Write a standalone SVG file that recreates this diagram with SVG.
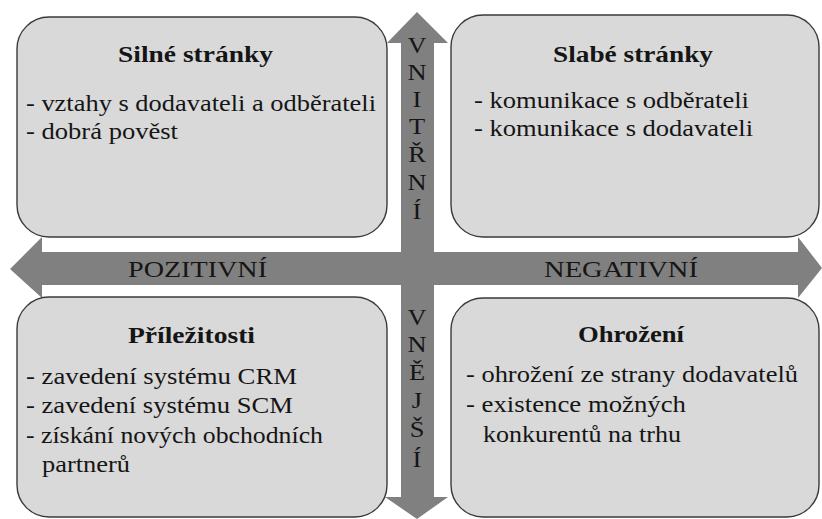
<svg xmlns="http://www.w3.org/2000/svg" width="822" height="519" viewBox="0 0 822 519">
<defs>
<style>
.box{fill:#d9d9d9;stroke:#3a3a3a;stroke-width:1.4}
.arrow{fill:#808080}
text{font-family:"Liberation Serif","Times New Roman",Times,serif;fill:#151515;font-size:24px}
.t{font-weight:bold}
.v{font-size:23px;text-anchor:middle}
</style>
</defs>
<rect width="822" height="519" fill="#ffffff"/>
<g id="connectors">
<polygon class="arrow" points="10,269 42,237 42,252 798,252 798,237 822,268 798,298 798,285 42,285 42,298"/>
<polygon class="arrow" points="417,12 448,43 434,43 434,497 448,497 417,519 385,497 401,497 401,43 387,43"/>
<g transform="translate(417,0) scale(1.15,1)">
<text class="v" x="0" y="53">V</text>
<text class="v" x="0" y="80">N</text>
<text class="v" x="0" y="107">I</text>
<text class="v" x="0" y="134">T</text>
<text class="v" x="0" y="162">Ř</text>
<text class="v" x="0" y="190">N</text>
<text class="v" x="0" y="219">Í</text>
<text class="v" x="0" y="325">V</text>
<text class="v" x="0" y="352">N</text>
<text class="v" x="0" y="380">Ě</text>
<text class="v" x="0" y="408">J</text>
<text class="v" x="0" y="437">Š</text>
<text class="v" x="0" y="467">Í</text>
</g>
<text x="128" y="277" textLength="139" lengthAdjust="spacingAndGlyphs">POZITIVNÍ</text>
<text x="544" y="277" textLength="154" lengthAdjust="spacingAndGlyphs">NEGATIVNÍ</text>
</g>
<g id="silne">
<rect class="box" x="17" y="17" width="370" height="220" rx="32" ry="32"/>
<text class="t" x="118" y="62" textLength="155" lengthAdjust="spacingAndGlyphs">Silné stránky</text>
<text x="26" y="111" textLength="350" lengthAdjust="spacingAndGlyphs">- vztahy s dodavateli a odběrateli</text>
<text x="26" y="139" textLength="152" lengthAdjust="spacingAndGlyphs">- dobrá pověst</text>
</g>
<g id="slabe">
<rect class="box" x="451" y="15" width="368" height="222" rx="32" ry="32"/>
<text class="t" x="553" y="62" textLength="160" lengthAdjust="spacingAndGlyphs">Slabé stránky</text>
<text x="474" y="108" textLength="275" lengthAdjust="spacingAndGlyphs">- komunikace s odběrateli</text>
<text x="474" y="136" textLength="279" lengthAdjust="spacingAndGlyphs">- komunikace s dodavateli</text>
</g>
<g id="prilezitosti">
<rect class="box" x="17" y="297" width="370" height="220" rx="32" ry="32"/>
<text class="t" x="128" y="343" textLength="127" lengthAdjust="spacingAndGlyphs">Příležitosti</text>
<text x="26" y="384" textLength="271" lengthAdjust="spacingAndGlyphs">- zavedení systému CRM</text>
<text x="26" y="413" textLength="267" lengthAdjust="spacingAndGlyphs">- zavedení systému SCM</text>
<text x="26" y="443" textLength="297" lengthAdjust="spacingAndGlyphs">- získání nových obchodních</text>
<text x="42" y="472" textLength="88" lengthAdjust="spacingAndGlyphs">partnerů</text>
</g>
<g id="ohrozeni">
<rect class="box" x="451" y="298" width="368" height="219" rx="32" ry="32"/>
<text class="t" x="578" y="342" textLength="106" lengthAdjust="spacingAndGlyphs">Ohrožení</text>
<text x="466" y="382" textLength="332" lengthAdjust="spacingAndGlyphs">- ohrožení ze strany dodavatelů</text>
<text x="466" y="412" textLength="220" lengthAdjust="spacingAndGlyphs">- existence možných</text>
<text x="483" y="442" textLength="198" lengthAdjust="spacingAndGlyphs">konkurentů na trhu</text>
</g>
</svg>
